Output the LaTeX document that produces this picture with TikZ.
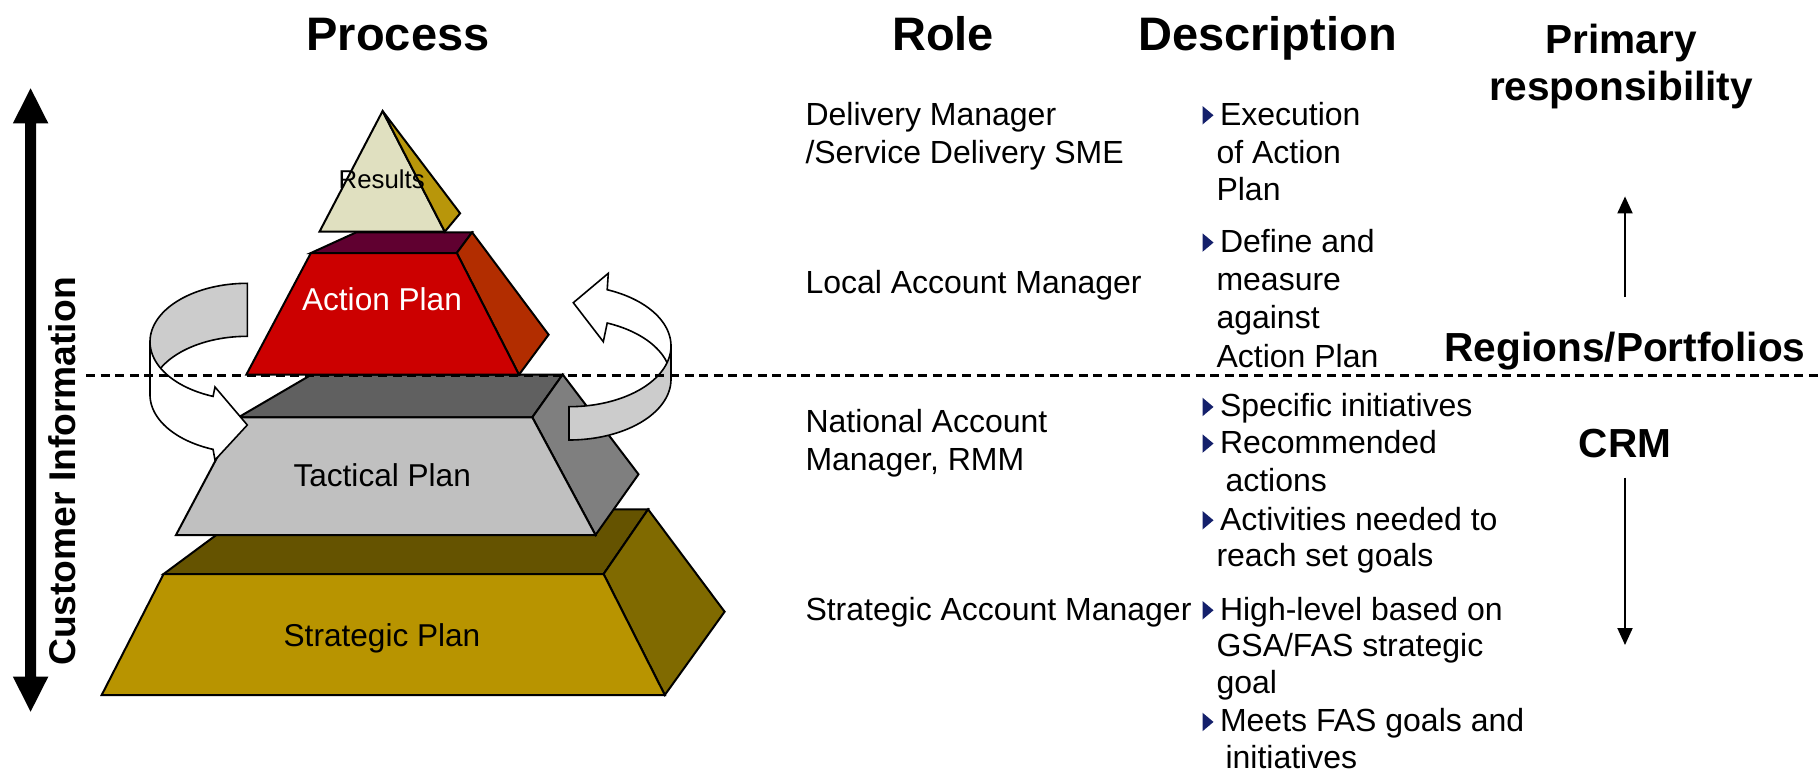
\documentclass[tikz,border=0pt]{standalone}
\usepackage{fontspec}
\setmainfont{Liberation Sans}
\usetikzlibrary{arrows.meta}

% face colours of the four blocks
\definecolor{resFront}{HTML}{E0E0C0}
\definecolor{resSide}{HTML}{B8960A}
\definecolor{apTop}{HTML}{600030}
\definecolor{apFront}{HTML}{CC0000}
\definecolor{apSide}{HTML}{B22D00}
\definecolor{tpTop}{HTML}{606060}
\definecolor{tpFront}{HTML}{C0C0C0}
\definecolor{tpSide}{HTML}{7F7F7F}
\definecolor{spTop}{HTML}{655300}
\definecolor{spFront}{HTML}{B89400}
\definecolor{spSide}{HTML}{806A00}
\definecolor{ribbonGray}{HTML}{CCCCCC}
\definecolor{bulletNavy}{HTML}{14206B}

\newcommand\txtbody{\fontsize{16pt}{19pt}\selectfont}
\newcommand\txthead{\fontsize{23.5pt}{28pt}\selectfont\bfseries}
\newcommand\txtright{\fontsize{20.3pt}{24pt}\selectfont\bfseries}
\newcommand\txtside{\fontsize{18.6pt}{22pt}\selectfont\bfseries}
\newcommand\txtlabel{\fontsize{15.8pt}{19pt}\selectfont}
\newcommand\txtsmall{\fontsize{12.9pt}{15pt}\selectfont}

% small navy triangle in front of the first line of a description item
\newcommand\descbullet[1]{%
  \fill[bulletNavy] ([shift={(-17.5,-19)}]#1.base west) -- ([shift={(-17.5,-0.5)}]#1.base west)
    -- ([shift={(-6.5,-9.75)}]#1.base west) -- cycle;}

\begin{document}
\begin{tikzpicture}[x=0.5pt,y=-0.5pt,
  face/.style={draw=black,line width=1pt},
  ribbon/.style={draw=black,line width=0.8pt},
  txt/.style={inner sep=0pt,outer sep=0pt},
  rl/.style={txt,anchor=base west,font=\txtbody},
  hd/.style={txt,anchor=base,font=\txthead},
  rc/.style={txt,anchor=base,font=\txtright},
  plbl/.style={txt,anchor=base,font=\txtlabel},
  thinarrow/.style={line width=1pt,-{Triangle[width=7.5pt,length=8.5pt]}},
  divider/.style={line width=1.2pt,dash pattern=on 4.5pt off 2.8pt}]

\fill[white] (0,0) rectangle (1820,772);
\useasboundingbox (0,0) rectangle (1820,772);

% ---------- Strategic Plan block ----------
\filldraw[face,fill=spTop] (163.6,574) -- (603.6,574) -- (648.1,509.3) -- (251,509.3) -- cycle;
\filldraw[face,fill=spSide] (603.6,574) -- (648.1,509.3) -- (724.6,611.7) -- (664.8,695) -- cycle;
\filldraw[face,fill=spFront] (163.6,574) -- (603.6,574) -- (664.8,695) -- (101.7,695) -- cycle;

% ---------- Tactical Plan block ----------
\filldraw[face,fill=tpTop] (238.5,417.3) -- (532.3,417.3) -- (562.7,374.5) -- (311.7,374.5) -- cycle;
\filldraw[face,fill=tpSide] (532.3,417.3) -- (562.7,374.5) -- (638.5,474.3) -- (595.5,535) -- cycle;
\filldraw[face,fill=tpFront] (238.5,417.3) -- (532.3,417.3) -- (595.5,535) -- (176,535) -- cycle;

% ---------- left ribbon arrow (back band, then front with head) ----------
\filldraw[ribbon,fill=ribbonGray]
  plot[domain=-90:-180,samples=40] ({247.3+97.3*cos(\x)},{341.7+58.4*sin(\x)})
  -- plot[domain=180:270,samples=40] ({247.3+97.3*cos(\x)},{394.7+58.4*sin(\x)}) -- cycle;
\filldraw[ribbon,fill=white]
  plot[domain=180:110.6,samples=40] ({247.3+97.3*cos(\x)},{341.7+58.4*sin(\x)})
  -- (215,387) -- (247.3,425) -- (215,460)
  -- plot[domain=110.6:180,samples=40] ({247.3+97.3*cos(\x)},{394.7+58.4*sin(\x)}) -- cycle;

% ---------- right ribbon arrow (back with head, then front band) ----------
\filldraw[ribbon,fill=white]
  plot[domain=-68:0,samples=40] ({569+102*cos(\x)},{346+60.7*sin(\x)})
  -- plot[domain=0:-68,samples=40] ({569+102*cos(\x)},{379.3+60.7*sin(\x)})
  -- (603.3,341.7) -- (573.3,302.7) -- (608.3,273.3) -- cycle;
\filldraw[ribbon,fill=ribbonGray]
  plot[domain=0:90,samples=40] ({569+102*cos(\x)},{346+60.7*sin(\x)})
  -- plot[domain=90:0,samples=40] ({569+102*cos(\x)},{379.3+60.7*sin(\x)}) -- cycle;

% ---------- Action Plan block ----------
\filldraw[face,fill=apTop] (310.9,253) -- (456.8,253) -- (472.1,232.3) -- (356.3,232.3) -- cycle;
\filldraw[face,fill=apSide] (456.8,253) -- (472.1,232.3) -- (548.6,334.7) -- (519,374.7) -- cycle;
\filldraw[face,fill=apFront] (310.9,253) -- (456.8,253) -- (519,374.7) -- (246.3,374.7) -- cycle;

% ---------- Results pyramid ----------
\filldraw[face,fill=resFront] (382.6,111) -- (444.8,231.7) -- (319.5,231.7) -- cycle;
\filldraw[face,fill=resSide] (382.6,111) -- (460.1,213.3) -- (444.8,231.7) -- cycle;

% block labels
\node[txt,anchor=base,font=\txtsmall] (lblResults) at (381.7,188.3) {Results};
\node[plbl,text=white] (lblAction) at (382,310) {Action Plan};
\node[plbl] (lblTactical) at (382.2,486) {Tactical Plan};
\node[plbl] (lblStrategic) at (382,646.7) {Strategic Plan};

% ---------- customer information axis ----------
\fill[black] (30.6,88.3) -- (48.3,123.3) -- (36.1,123.3) -- (36.1,676.7) -- (48.3,676.7)
  -- (30.6,711.7) -- (12.9,676.7) -- (25.1,676.7) -- (25.1,123.3) -- (12.9,123.3) -- cycle;
\node[txt,anchor=base,rotate=90,font=\txtside] (custInfo) at (75.5,471.5) {Customer Information};

% ---------- column headers ----------
\node[hd] (hProcess) at (398,50) {Process};
\node[hd] (hRole) at (943,50) {Role};
\node[hd] (hDesc) at (1267.5,50) {Description};
\node[rc] (hPrimary) at (1621,53) {Primary};
\node[rc] (hResp) at (1621,100) {responsibility};

% ---------- roles ----------
\node[rl] (r1a) at (805.5,125) {Delivery Manager};
\node[rl] (r1b) at (805.5,163.3) {/Service Delivery SME};
\node[rl] (r2) at (805.5,293.3) {Local Account Manager};
\node[rl] (r3a) at (805.5,432.7) {National Account};
\node[rl] (r3b) at (805.5,470) {Manager, RMM};
\node[rl] (r4) at (805.5,620) {Strategic Account Manager};

% ---------- descriptions ----------
\node[rl] (d1a) at (1220,125) {Execution};
\node[rl] (d1b) at (1216.5,163.3) {of Action};
\node[rl] (d1c) at (1216.5,200.7) {Plan};
\node[rl] (d2a) at (1220,252.3) {Define and};
\node[rl] (d2b) at (1216.5,290.7) {measure};
\node[rl] (d2c) at (1216.5,328.3) {against};
\node[rl] (d2d) at (1216.5,367.3) {Action Plan};
\node[rl] (d3) at (1220,416.7) {Specific initiatives};
\node[rl] (d4a) at (1220,453.3) {Recommended};
\node[rl] (d4b) at (1225.5,491.7) {actions};
\node[rl] (d5a) at (1220,530) {Activities needed to};
\node[rl] (d5b) at (1216.5,566.7) {reach set goals};
\node[rl] (d6a) at (1220,620) {High-level based on};
\node[rl] (d6b) at (1216.5,656.7) {GSA/FAS strategic};
\node[rl] (d6c) at (1216.5,693.3) {goal};
\node[rl] (d7a) at (1220,731.7) {Meets FAS goals and};
\node[rl] (d7b) at (1225.5,768.3) {initiatives};
\foreach \b in {d1a,d2a,d3,d4a,d5a,d6a,d7a}{\descbullet{\b}}

% ---------- responsibility scale ----------
\node[rc] (regions) at (1625,361.6) {Regions/Portfolios};
\node[rc] (crm) at (1625,457.6) {CRM};
\coordinate (upTail) at (1625,297);
\coordinate (upTip) at (1625,196.4);
\coordinate (downTail) at (1625,477.7);
\coordinate (downTip) at (1625,645);
\draw[thinarrow] (upTail) -- (upTip);
\draw[thinarrow] (downTail) -- (downTip);

% ---------- dividing line ----------
\coordinate (dashL) at (86,375.5);
\coordinate (dashR) at (1820,375.5);
\draw[divider] (dashL) -- (dashR);

\end{tikzpicture}
\end{document}
